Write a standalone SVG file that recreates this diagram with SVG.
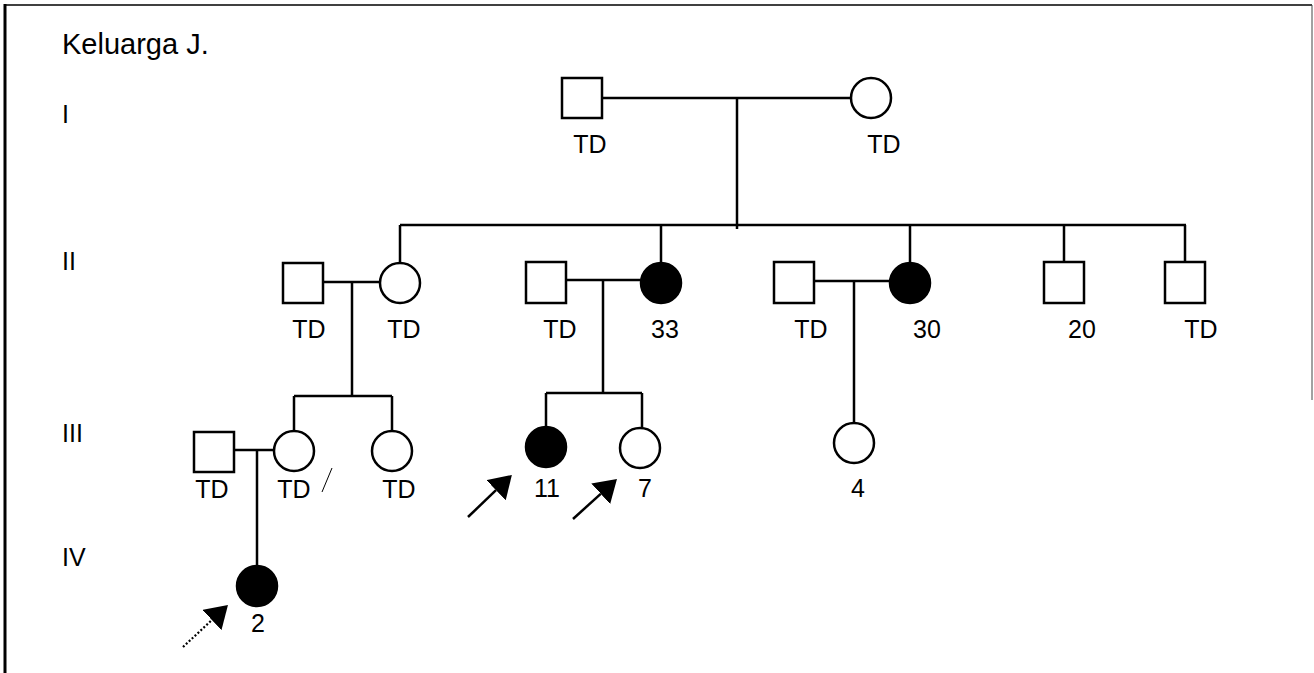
<svg xmlns="http://www.w3.org/2000/svg" width="1314" height="673" viewBox="0 0 1314 673">
<style>
.ln{stroke:#000;stroke-width:2.5;fill:none}
.sym{stroke:#000;stroke-width:2.5;fill:#fff}
.aff{stroke:#000;stroke-width:2.5;fill:#000}
.lbl{font-family:"Liberation Sans",Arial,sans-serif;font-size:25px;fill:#000;text-anchor:middle}
.gen{font-family:"Liberation Sans",Arial,sans-serif;font-size:25px;fill:#000}
</style>
<defs>
<marker id="ah" markerUnits="userSpaceOnUse" viewBox="0 0 22 28" refX="0" refY="14" markerWidth="22" markerHeight="28" orient="auto">
<path d="M0,0 L22,14 L0,28 Z" fill="#000"/>
</marker>
</defs>
<rect width="1314" height="673" fill="#fff"/>
<g id="frame">
<line x1="5" y1="5" x2="1312" y2="5" stroke="#000" stroke-width="1.5"/>
<line x1="5" y1="4" x2="5" y2="673" stroke="#000" stroke-width="3"/>
<line x1="1312" y1="5" x2="1312" y2="400" stroke="#444" stroke-width="1"/>
</g>
<g id="titles">
<text x="62" y="54" class="gen" style="font-size:29px">Keluarga J.</text>
<text x="62" y="123" class="gen">I</text>
<text x="62" y="270" class="gen">II</text>
<text x="62" y="442" class="gen">III</text>
<text x="62" y="566" class="gen">IV</text>
</g>
<g id="connectors">
<path class="ln" d="M602,98 H851"/>
<path class="ln" d="M737,98 V229"/>
<path class="ln" d="M400,225 H1186"/>
<path class="ln" d="M400,225 V263 M661,225 V263 M910,225 V263 M1064,225 V262 M1185,225 V262"/>
<path class="ln" d="M323,282 H380 M352,282 V396 M294,396 H392 M294,396 V431 M392,396 V431"/>
<path class="ln" d="M566,280 H640 M603,280 V393 M546,393 H642 M546,393 V427 M642,393 V428"/>
<path class="ln" d="M814,281 H890 M854,281 V423"/>
<path class="ln" d="M234,450 H274 M257,450 V566"/>
</g>
<g id="I-1"><rect class="sym" x="562" y="78" width="40" height="40"/><text class="lbl" x="590" y="153">TD</text></g>
<g id="I-2"><circle class="sym" cx="871" cy="98" r="20"/><text class="lbl" x="884" y="153">TD</text></g>
<g id="II-1"><rect class="sym" x="283" y="263" width="40" height="40"/><text class="lbl" x="309" y="338">TD</text></g>
<g id="II-2"><circle class="sym" cx="400" cy="283" r="20"/><text class="lbl" x="404" y="338">TD</text></g>
<g id="II-3"><rect class="sym" x="526" y="262" width="40" height="41"/><text class="lbl" x="560" y="338">TD</text></g>
<g id="II-4"><circle class="aff" cx="661" cy="283" r="20"/><text class="lbl" x="665" y="338">33</text></g>
<g id="II-5"><rect class="sym" x="774" y="262" width="40" height="41"/><text class="lbl" x="811" y="338">TD</text></g>
<g id="II-6"><circle class="aff" cx="910" cy="283" r="20"/><text class="lbl" x="927" y="338">30</text></g>
<g id="II-7"><rect class="sym" x="1044" y="262" width="40" height="41"/><text class="lbl" x="1082" y="338">20</text></g>
<g id="II-8"><rect class="sym" x="1165" y="262" width="40" height="41"/><text class="lbl" x="1201" y="338">TD</text></g>
<g id="III-1"><rect class="sym" x="194" y="432" width="40" height="40"/><text class="lbl" x="212" y="498">TD</text></g>
<g id="III-2"><circle class="sym" cx="294" cy="451" r="20"/><text class="lbl" x="294" y="498">TD</text><line x1="322" y1="492" x2="332" y2="468" stroke="#000" stroke-width="1"/></g>
<g id="III-3"><circle class="sym" cx="392" cy="451" r="20"/><text class="lbl" x="399" y="498">TD</text></g>
<g id="III-4"><circle class="aff" cx="546" cy="447" r="20"/><text class="lbl" x="547" y="497">11</text></g>
<g id="III-5"><circle class="sym" cx="640" cy="448" r="20"/><text class="lbl" x="645" y="497">7</text></g>
<g id="III-6"><circle class="sym" cx="854" cy="443" r="20"/><text class="lbl" x="858" y="497">4</text></g>
<g id="IV-1"><circle class="aff" cx="257" cy="586" r="20"/><text class="lbl" x="258" y="632">2</text></g>
<g id="arrows">
<line x1="468" y1="517" x2="496" y2="490.2" stroke="#000" stroke-width="2.5" marker-end="url(#ah)"/>
<line x1="573" y1="519" x2="600.7" y2="493.8" stroke="#000" stroke-width="2.5" marker-end="url(#ah)"/>
<line x1="183" y1="647" x2="211.9" y2="620" stroke="#000" stroke-width="2.2" stroke-dasharray="2,2" marker-end="url(#ah)"/>
</g>
</svg>
